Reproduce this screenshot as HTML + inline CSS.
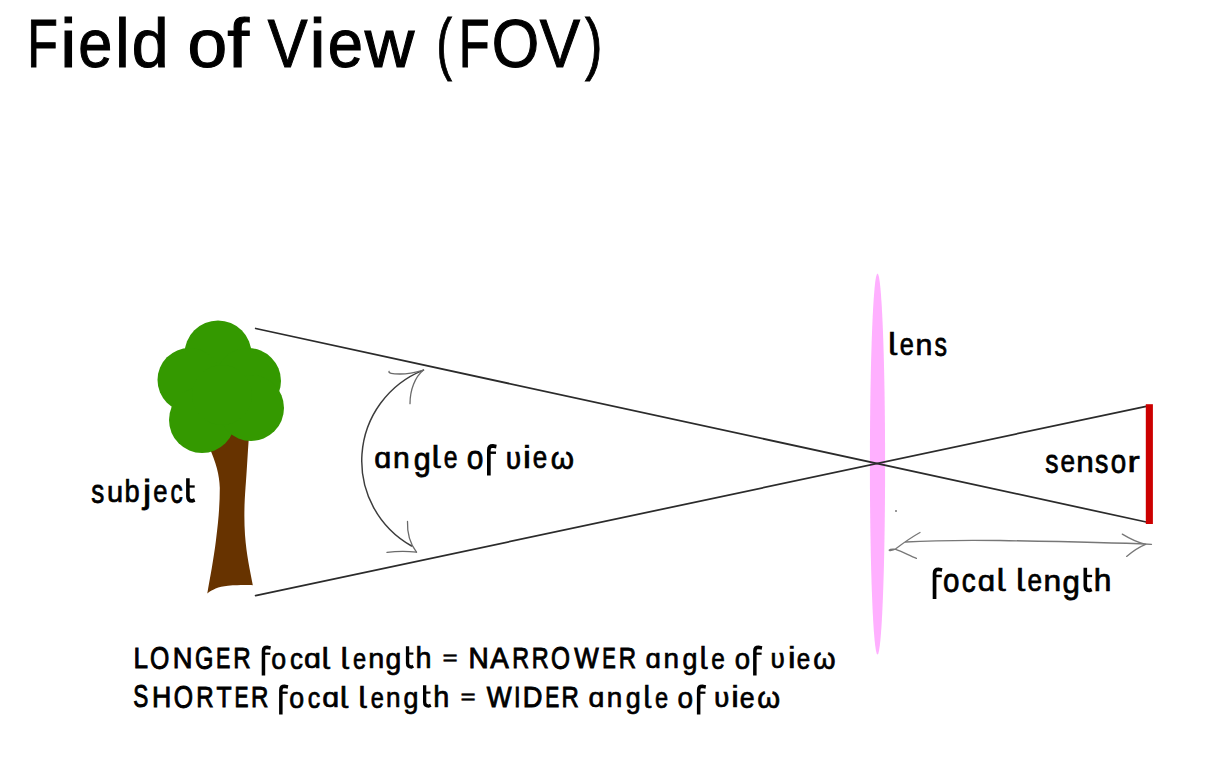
<!DOCTYPE html>
<html>
<head>
<meta charset="utf-8">
<style>
html,body{margin:0;padding:0;background:#fff;}
body{width:1222px;height:762px;overflow:hidden;position:relative;}
svg{position:absolute;left:0;top:0;}
text{font-family:"Liberation Sans", sans-serif;fill:#000;}
.title text{stroke:#000;stroke-width:1.1px;}
</style>
</head>
<body>
<svg width="1222" height="762" viewBox="0 0 1222 762">
  <!-- lens -->
  <ellipse cx="877.5" cy="464" rx="7.6" ry="190.6" fill="#ffb0ff"/>

  <!-- tree trunk -->
  <path d="M209 447 L214 428 L240 424 L249 436 C247.5 455 247 470 245.5 487.7 C244.2 505 244 520 245 535 C246.5 555 250 570 252.8 585.2 C248 585.2 240 584.8 228 585.8 C218 586.5 212 590 207.3 593.4 C210 578 213.5 560 216 540 C218.5 520 219.8 505 219.8 488 C219.5 475 216 462 209 447 Z" fill="#673300"/>
  <!-- canopy -->
  <g fill="#349900">
    <circle cx="218" cy="354" r="33.5"/>
    <circle cx="189.5" cy="380" r="32"/>
    <circle cx="248" cy="381" r="33"/>
    <circle cx="202" cy="420" r="33"/>
    <circle cx="251" cy="408" r="33"/>
    <circle cx="222" cy="395" r="30"/>
  </g>

  <!-- rays -->
  <g stroke="#2b2b2b" stroke-width="1.75" fill="none" stroke-linecap="round">
    <line x1="255.7" y1="328.5" x2="1146.2" y2="522"/>
    <line x1="255.6" y1="595.6" x2="1146.2" y2="406.3"/>
  </g>

  <rect x="895" y="510" width="2" height="2" fill="#999"/>
  <!-- sensor -->
  <rect x="1145.8" y="404.2" width="7.1" height="119.8" fill="#cc0000"/>

  <!-- angle arc -->
  <path d="M423.5 370.1 A97.6 97.6 0 0 0 411.6 546" stroke="#3c3c3c" stroke-width="1.45" fill="none" stroke-linecap="round"/>
  <g stroke="#6a6a6a" stroke-width="1.3" fill="none" stroke-linecap="round">
    <path d="M389.1 371.4 C388 373 392 374 400 374 C406 374 412 373.4 423.5 370.1"/>
    <path d="M423.5 370.1 C415 377 410 390 410 403.7"/>
    <path d="M407.5 521.5 C407 535 411 545 416.5 552.1"/>
    <path d="M387 552.4 C397 551 407 551 416.5 552.1"/>
  </g>

  <!-- focal length arrow -->
  <g stroke="#777" stroke-width="1.3" fill="none" stroke-linecap="round">
    <path d="M905.6 542 C930 540.5 960 540 1000 540.5 C1060 541.5 1110 542.5 1151.5 544.3"/>
    <path d="M920 532.5 C910 538 902 544 895.1 549.2 C893 550 889 551 889.2 550.2 C890 549 893 549 895.1 549.2 C903 552 910 556 916.4 558.4"/>
    <path d="M1122.3 534.1 C1132 540 1140 543 1145.6 544.3"/>
    <path d="M1126.6 556.4 C1133 551 1139 547 1145.6 544.3"/>
  </g>

  <!-- title -->
  <g class="title">
    <text x="27.25" y="66.6" font-size="69" textLength="30.60" lengthAdjust="spacingAndGlyphs">F</text>
    <text x="60.20" y="66.6" font-size="69" textLength="16.11" lengthAdjust="spacingAndGlyphs">i</text>
    <text x="78.29" y="66.6" font-size="69" textLength="34.06" lengthAdjust="spacingAndGlyphs">e</text>
    <text x="115.28" y="66.6" font-size="69" textLength="14.32" lengthAdjust="spacingAndGlyphs">l</text>
    <text x="131.87" y="66.6" font-size="69" textLength="36.89" lengthAdjust="spacingAndGlyphs">d</text>
    <text x="187.45" y="66.6" font-size="69" textLength="39.69" lengthAdjust="spacingAndGlyphs">o</text>
    <text x="227.31" y="66.6" font-size="69" textLength="21.83" lengthAdjust="spacingAndGlyphs">f</text>
    <text x="267.79" y="66.6" font-size="69" textLength="39.79" lengthAdjust="spacingAndGlyphs">V</text>
    <text x="309.60" y="66.6" font-size="69" textLength="16.11" lengthAdjust="spacingAndGlyphs">i</text>
    <text x="327.79" y="66.6" font-size="69" textLength="35.26" lengthAdjust="spacingAndGlyphs">e</text>
    <text x="364.75" y="66.6" font-size="69" textLength="49.54" lengthAdjust="spacingAndGlyphs">w</text>
    <text x="436.46" y="66.6" font-size="69" textLength="15.45" lengthAdjust="spacingAndGlyphs">(</text>
    <text x="458.75" y="66.6" font-size="69" textLength="30.91" lengthAdjust="spacingAndGlyphs">F</text>
    <text x="491.69" y="66.6" font-size="69" textLength="47.51" lengthAdjust="spacingAndGlyphs">O</text>
    <text x="539.87" y="66.6" font-size="69" textLength="40.30" lengthAdjust="spacingAndGlyphs">V</text>
    <text x="584.89" y="66.6" font-size="69" textLength="17.37" lengthAdjust="spacingAndGlyphs">)</text>
  </g>
  <!-- labels -->
  <g class="lbl" font-size="34" stroke="#000" stroke-width="0.8">
    <text transform="matrix(1.0000 0 0 0.7303 888.25 349.66)">ɭ</text>
    <text transform="matrix(0.7471 0 0 0.9158 899.70 354.58)">e</text>
    <text transform="matrix(0.8933 0 0 0.8700 915.46 354.63)">n</text>
    <text transform="matrix(0.7333 0 0 0.9667 934.62 355.50)">s</text>
    <text transform="matrix(0.9000 0 0 0.8700 374.35 468.13)">ɑ</text>
    <text transform="matrix(0.8867 0 0 0.8700 393.08 468.13)">n</text>
    <text transform="matrix(0.9000 0 0 0.9481 413.65 469.61)">g</text>
    <text transform="matrix(1.0000 0 0 0.7303 431.75 463.16)">ɭ</text>
    <text transform="matrix(0.7294 0 0 0.9158 443.72 468.08)">e</text>
    <text transform="matrix(0.8824 0 0 0.9667 466.67 469.00)">o</text>
    <path d="M488.85 475.60L488.85 449.95Q488.85 445.95 492.85 445.95L496.40 446.65" fill="none" stroke-width="3.70"/>
    <path d="M488.85 452.70L496.00 452.70" fill="none" stroke-width="2.40"/>
    <text transform="matrix(0.8467 0 0 0.9158 505.66 469.00)">ʋ</text>
    <text transform="matrix(1.0500 0 0 0.9308 523.05 468.07)">i</text>
    <text transform="matrix(0.7647 0 0 0.9158 532.79 468.08)">e</text>
    <text transform="matrix(0.8760 0 0 0.9158 550.87 469.00)">ω</text>
    <text transform="matrix(0.7667 0 0 0.9667 91.18 502.80)">s</text>
    <text transform="matrix(0.8533 0 0 0.8700 106.94 501.93)">u</text>
    <text transform="matrix(0.8000 0 0 0.9269 124.55 501.87)">b</text>
    <text transform="matrix(1.0800 0 0 0.9688 142.90 502.82)">j</text>
    <text transform="matrix(0.7529 0 0 0.9158 153.30 501.88)">e</text>
    <text transform="matrix(0.7188 0 0 0.9667 170.43 502.80)">c</text>
    <path d="M187.90 478.20L187.90 496.80Q187.90 501.00 192.10 501.00L194.74 500.00" fill="none" stroke-width="3.60"/>
    <path d="M187.90 486.50L194.70 486.50" fill="none" stroke-width="2.30"/>
    <text transform="matrix(0.7800 0 0 0.9667 1045.17 472.90)">s</text>
    <text transform="matrix(0.7706 0 0 0.9158 1060.58 471.98)">e</text>
    <text transform="matrix(0.9267 0 0 0.8700 1076.30 472.03)">n</text>
    <text transform="matrix(0.7867 0 0 0.9667 1094.96 472.90)">s</text>
    <text transform="matrix(0.8176 0 0 0.9667 1110.83 472.90)">o</text>
    <text transform="matrix(1.0778 0 0 0.8700 1127.49 472.03)">r</text>
    <path d="M934.55 598.90L934.55 573.25Q934.55 569.25 938.55 569.25L942.10 569.95" fill="none" stroke-width="3.70"/>
    <path d="M934.55 576.00L941.70 576.00" fill="none" stroke-width="2.40"/>
    <text transform="matrix(0.8706 0 0 0.9667 942.88 592.30)">o</text>
    <text transform="matrix(0.8187 0 0 0.9667 961.73 592.30)">c</text>
    <text transform="matrix(0.9187 0 0 0.8700 977.63 591.43)">ɑ</text>
    <text transform="matrix(1.0000 0 0 0.7303 996.65 586.46)">ɭ</text>
    <text transform="matrix(1.0000 0 0 0.7303 1016.25 586.46)">ɭ</text>
    <text transform="matrix(0.7706 0 0 0.9158 1027.38 591.38)">e</text>
    <text transform="matrix(0.9333 0 0 0.8700 1043.58 591.43)">n</text>
    <text transform="matrix(0.9188 0 0 0.9481 1062.53 592.91)">g</text>
    <path d="M1085.30 567.70L1085.30 586.30Q1085.30 590.50 1089.50 590.50L1091.74 589.50" fill="none" stroke-width="3.60"/>
    <path d="M1085.30 576.00L1092.10 576.00" fill="none" stroke-width="2.30"/>
    <text transform="matrix(0.9333 0 0 0.9269 1093.68 591.37)">h</text>
  </g>
  <g class="bot" font-size="31.5" stroke="#000" stroke-width="0.75">
    <text transform="matrix(0.8267 0 0 0.9292 133.60 667.87)" stroke-width="1.0">L</text>
    <text transform="matrix(0.7870 0 0 1.0136 150.06 668.80)" stroke-width="1.0">O</text>
    <text transform="matrix(0.8684 0 0 0.9292 172.81 667.87)" stroke-width="1.0">N</text>
    <text transform="matrix(0.7500 0 0 1.0136 195.10 668.80)" stroke-width="1.0">G</text>
    <text transform="matrix(0.6833 0 0 0.9292 215.98 667.87)" stroke-width="1.0">E</text>
    <text transform="matrix(0.7650 0 0 0.9292 233.32 667.87)" stroke-width="1.0">R</text>
    <path d="M263.45 675.40L263.45 650.95Q263.45 647.35 267.05 647.35L270.60 648.05" fill="none" stroke-width="3.50"/>
    <path d="M263.45 653.70L270.20 653.70" fill="none" stroke-width="2.20"/>
    <text transform="matrix(0.8500 0 0 0.9529 271.20 668.80)">o</text>
    <text transform="matrix(0.8214 0 0 0.9529 289.93 668.80)">c</text>
    <text transform="matrix(0.9667 0 0 0.9000 303.98 667.90)">ɑ</text>
    <text transform="matrix(1.0000 0 0 0.7567 321.85 663.50)">ɭ</text>
    <text transform="matrix(1.0000 0 0 0.7567 340.65 663.50)">ɭ</text>
    <text transform="matrix(0.7500 0 0 0.9529 352.90 668.80)">e</text>
    <text transform="matrix(0.9143 0 0 0.9000 368.22 667.90)">n</text>
    <text transform="matrix(0.9000 0 0 0.9440 385.45 668.65)">g</text>
    <path d="M407.55 646.20L407.55 663.35Q407.55 667.15 411.35 667.15L413.25 666.15" fill="none" stroke-width="3.30"/>
    <path d="M407.55 653.60L413.40 653.60" fill="none" stroke-width="2.10"/>
    <text transform="matrix(0.9143 0 0 0.9458 415.42 667.85)">h</text>
    <text transform="matrix(0.8250 0 0 0.6500 442.53 665.10)">=</text>
    <text transform="matrix(0.8895 0 0 0.9292 468.47 667.87)" stroke-width="1.0">N</text>
    <text transform="matrix(0.8810 0 0 0.9292 490.35 667.87)" stroke-width="1.0">A</text>
    <text transform="matrix(0.7400 0 0 0.9292 512.17 667.87)" stroke-width="1.0">R</text>
    <text transform="matrix(0.7450 0 0 0.9292 531.76 667.87)" stroke-width="1.0">R</text>
    <text transform="matrix(0.7739 0 0 1.0136 551.08 668.80)" stroke-width="1.0">O</text>
    <text transform="matrix(0.8233 0 0 0.9292 574.35 667.87)" stroke-width="1.0">W</text>
    <text transform="matrix(0.6444 0 0 0.9292 602.16 667.87)" stroke-width="1.0">E</text>
    <text transform="matrix(0.7600 0 0 0.9292 618.73 667.87)" stroke-width="1.0">R</text>
    <text transform="matrix(0.8800 0 0 0.9000 645.57 667.90)">ɑ</text>
    <text transform="matrix(0.8857 0 0 0.9000 663.58 667.90)">n</text>
    <text transform="matrix(0.8533 0 0 0.9440 682.50 668.65)">g</text>
    <text transform="matrix(0.9429 0 0 0.7567 699.86 663.50)">ɭ</text>
    <text transform="matrix(0.7750 0 0 0.9529 711.18 668.80)">e</text>
    <text transform="matrix(0.8750 0 0 0.9529 734.68 668.80)">o</text>
    <path d="M754.85 675.40L754.85 650.95Q754.85 647.35 758.45 647.35L762.00 648.05" fill="none" stroke-width="3.50"/>
    <path d="M754.85 653.70L761.60 653.70" fill="none" stroke-width="2.20"/>
    <text transform="matrix(0.8500 0 0 0.9000 770.55 667.90)">ʋ</text>
    <text transform="matrix(1.0800 0 0 0.9292 788.12 667.87)">i</text>
    <text transform="matrix(0.7687 0 0 0.9529 796.68 668.80)">e</text>
    <text transform="matrix(0.9087 0 0 0.9529 813.14 668.80)">ω</text>
    <text transform="matrix(0.7158 0 0 0.9696 133.33 706.83)" stroke-width="1.0">S</text>
    <text transform="matrix(0.8474 0 0 0.9292 151.96 706.87)" stroke-width="1.0">H</text>
    <text transform="matrix(0.7870 0 0 1.0136 173.76 707.80)" stroke-width="1.0">O</text>
    <text transform="matrix(0.7650 0 0 0.9292 196.32 706.87)" stroke-width="1.0">R</text>
    <text transform="matrix(0.7842 0 0 0.9292 216.45 706.87)" stroke-width="1.0">T</text>
    <text transform="matrix(0.6667 0 0 0.9292 234.42 706.87)" stroke-width="1.0">E</text>
    <text transform="matrix(0.7650 0 0 0.9292 250.92 706.87)" stroke-width="1.0">R</text>
    <path d="M280.85 714.40L280.85 689.95Q280.85 686.35 284.45 686.35L288.00 687.05" fill="none" stroke-width="3.50"/>
    <path d="M280.85 692.70L287.60 692.70" fill="none" stroke-width="2.20"/>
    <text transform="matrix(0.8500 0 0 0.9529 289.30 707.80)">o</text>
    <text transform="matrix(0.7929 0 0 0.9529 307.76 707.80)">c</text>
    <text transform="matrix(0.9667 0 0 0.9000 322.28 706.90)">ɑ</text>
    <text transform="matrix(1.0000 0 0 0.7567 340.05 702.50)">ɭ</text>
    <text transform="matrix(1.0000 0 0 0.7567 358.45 702.50)">ɭ</text>
    <text transform="matrix(0.7500 0 0 0.9529 370.80 707.80)">e</text>
    <text transform="matrix(0.8286 0 0 0.9000 385.99 706.90)">n</text>
    <text transform="matrix(0.8533 0 0 0.9440 403.60 707.65)">g</text>
    <path d="M424.65 685.20L424.65 702.35Q424.65 706.15 428.45 706.15L430.85 705.15" fill="none" stroke-width="3.30"/>
    <path d="M424.65 692.60L430.50 692.60" fill="none" stroke-width="2.10"/>
    <text transform="matrix(0.9143 0 0 0.9458 433.32 706.85)">h</text>
    <text transform="matrix(0.8250 0 0 0.6500 460.53 704.10)">=</text>
    <text transform="matrix(0.8367 0 0 0.9292 486.85 706.87)" stroke-width="1.0">W</text>
    <text transform="matrix(0.7500 0 0 0.9292 514.05 706.87)" stroke-width="1.0">I</text>
    <text transform="matrix(0.8650 0 0 0.9292 522.82 706.87)" stroke-width="1.0">D</text>
    <text transform="matrix(0.6667 0 0 0.9292 545.32 706.87)" stroke-width="1.0">E</text>
    <text transform="matrix(0.7600 0 0 0.9292 561.53 706.87)" stroke-width="1.0">R</text>
    <text transform="matrix(0.9067 0 0 0.9000 588.44 706.90)">ɑ</text>
    <text transform="matrix(0.8857 0 0 0.9000 606.78 706.90)">n</text>
    <text transform="matrix(0.8533 0 0 0.9440 625.70 707.65)">g</text>
    <text transform="matrix(0.9429 0 0 0.7567 643.56 702.50)">ɭ</text>
    <text transform="matrix(0.7500 0 0 0.9529 654.90 707.80)">e</text>
    <text transform="matrix(0.8875 0 0 0.9529 677.46 707.80)">o</text>
    <path d="M698.65 714.40L698.65 689.95Q698.65 686.35 702.25 686.35L705.80 687.05" fill="none" stroke-width="3.50"/>
    <path d="M698.65 692.70L705.40 692.70" fill="none" stroke-width="2.20"/>
    <text transform="matrix(0.9143 0 0 0.9000 713.92 706.90)">ʋ</text>
    <text transform="matrix(1.0800 0 0 0.9292 731.32 706.87)">i</text>
    <text transform="matrix(0.8500 0 0 0.9529 739.70 707.80)">e</text>
    <text transform="matrix(0.9304 0 0 0.9529 757.32 707.80)">ω</text>
  </g>
</svg>
</body>
</html>
